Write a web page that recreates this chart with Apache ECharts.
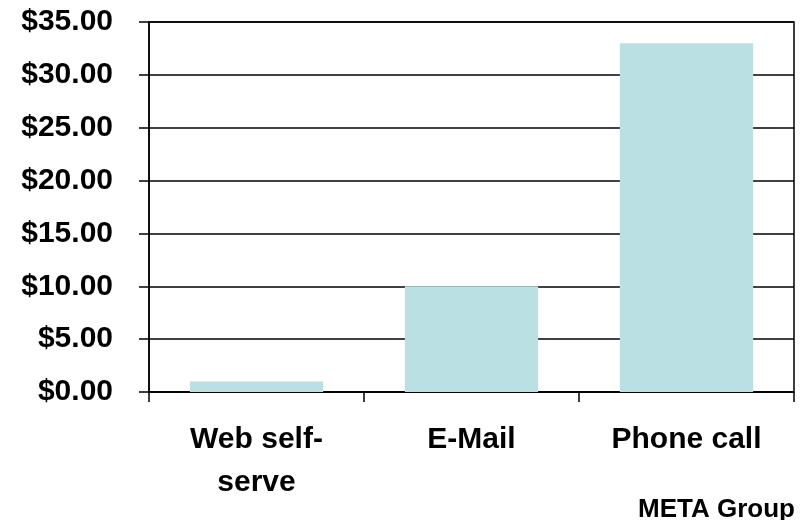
<!DOCTYPE html>
<html>
<head>
<meta charset="utf-8">
<script src="https://cdn.jsdelivr.net/npm/echarts@6/dist/echarts.min.js"></script>
<style>
  html, body { margin: 0; padding: 0; background: #fff; }
  #chart { width: 807px; height: 520px; }
</style>
</head>
<body>
<div id="chart"></div>
<script>
// Cost per customer contact, by channel
const categories = ['Web self-\nserve', 'E-Mail', 'Phone call'];
const costs = [1.0, 10.0, 33.0];
const yMin = 0;
const yMax = 35;
const yStep = 5;
const sourceNote = 'META Group';

const fontFamily = '"Liberation Sans", Arial, Helvetica, sans-serif';
const lineW = 1.5;
const chart = echarts.init(document.getElementById('chart'), null, { renderer: 'canvas' });

chart.setOption({
  animation: false,
  backgroundColor: '#ffffff',
  grid: {
    left: 149, right: 13, top: 22, bottom: 128,
    show: true, borderColor: '#000000', borderWidth: lineW, backgroundColor: 'transparent'
  },
  xAxis: {
    type: 'category',
    data: categories,
    boundaryGap: true,
    axisLine: { lineStyle: { color: '#000000', width: lineW } },
    axisTick: { show: true, alignWithLabel: false, length: 10, inside: false, lineStyle: { color: '#000000', width: lineW } },
    axisLabel: {
      margin: 26,
      color: '#000000',
      fontFamily: fontFamily,
      fontWeight: 'bold',
      fontSize: 30,
      lineHeight: 43,
      interval: 0
    },
    splitLine: { show: false }
  },
  yAxis: {
    type: 'value',
    min: yMin,
    max: yMax,
    interval: yStep,
    axisLine: { show: true, lineStyle: { color: '#000000', width: lineW } },
    axisTick: { show: true, length: 10, inside: false, lineStyle: { color: '#000000', width: lineW } },
    axisLabel: {
      margin: 36,
      color: '#000000',
      fontFamily: fontFamily,
      fontWeight: 'bold',
      fontSize: 30,
      formatter: v => '$' + v.toFixed(2)
    },
    splitLine: { show: true, lineStyle: { color: '#000000', width: lineW } }
  },
  series: [{
    type: 'bar',
    data: costs,
    barWidth: '62%',
    itemStyle: { color: '#BAE0E3' },
    z: 3
  }],
  graphic: [{
    type: 'text',
    right: 12,
    bottom: -3,
    style: {
      text: sourceNote,
      fill: '#000000',
      font: 'bold 26px ' + fontFamily
    }
  }]
});
</script>
</body>
</html>
